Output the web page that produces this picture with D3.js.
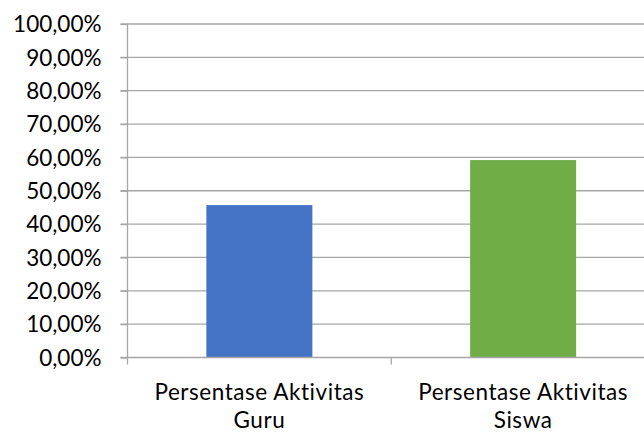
<!DOCTYPE html>
<html><head><meta charset="utf-8">
<script src="https://cdn.jsdelivr.net/npm/d3@7"></script>
<style>body{margin:0;background:#fff}svg{display:block}</style>
</head><body>
<svg id="c" width="644" height="435"></svg>
<script>
const categories = [["Persentase Aktivitas","Guru"],["Persentase Aktivitas","Siswa"]];
const values = [0.457, 0.592];
const colors = ["#4472C4", "#70AD47"];
const yTicks = [0,0.1,0.2,0.3,0.4,0.5,0.6,0.7,0.8,0.9,1.0];

const svg = d3.select("#c");
const mLeft = 127.5, mRight = 655, mTop = 24, mBottom = 357.5;
const font = "Lato, 'Open Sans', sans-serif";
const x = d3.scaleBand().domain(d3.range(categories.length)).range([mLeft, mRight]).paddingInner(0).paddingOuter(0);
const y = d3.scaleLinear().domain([0,1]).range([mBottom, mTop]);
const fmt = v => (v*100).toFixed(2).replace(".", ",") + "%";

// gridlines
svg.append("g").selectAll("line").data(yTicks.filter(d=>d>0)).join("line")
  .attr("x1", mLeft - 7).attr("x2", mRight)
  .attr("y1", d=>y(d)).attr("y2", d=>y(d))
  .attr("stroke", "#a6a6a6").attr("stroke-width", 1.3);

// bars
const bw = 106;
svg.append("g").selectAll("rect").data(values).join("rect")
  .attr("x", (d,i)=> x(i) + x.bandwidth()/2 - bw/2)
  .attr("width", bw)
  .attr("y", d=>y(d)).attr("height", d=>mBottom - y(d))
  .attr("fill", (d,i)=>colors[i]);

// y axis
const ya = svg.append("g").attr("transform", `translate(${mLeft},0)`)
  .call(d3.axisLeft(y).tickValues(yTicks).tickFormat(fmt).tickSize(7).tickPadding(19));
ya.select(".domain").remove();
ya.selectAll(".tick line").attr("stroke", "#a6a6a6").attr("stroke-width", 1.3);
ya.selectAll("text").attr("font-family", font).attr("font-size", 22.5).attr("fill", "#000")
  .attr("dy", "0.34em");
svg.append("line").attr("x1", mLeft).attr("x2", mLeft).attr("y1", mTop).attr("y2", mBottom)
  .attr("stroke", "#a6a6a6").attr("stroke-width", 1.3);

// x axis
svg.append("line").attr("x1", mLeft - 7).attr("x2", mRight).attr("y1", mBottom).attr("y2", mBottom)
  .attr("stroke", "#a6a6a6").attr("stroke-width", 1.3);
const bounds = d3.range(categories.length + 1).map(i => mLeft + i * x.bandwidth());
svg.append("g").selectAll("line").data(bounds).join("line")
  .attr("x1", d=>d).attr("x2", d=>d).attr("y1", mBottom).attr("y2", mBottom + 7)
  .attr("stroke", "#a6a6a6").attr("stroke-width", 1.3);
const lab = svg.append("g").selectAll("text").data(categories).join("text")
  .attr("text-anchor", "middle").attr("font-family", font).attr("font-size", 22.5).attr("fill", "#000")
  .attr("letter-spacing", 0.55)
  .attr("transform", (d,i)=>`translate(${x(i)+x.bandwidth()/2},0)`);
lab.selectAll("tspan").data(d=>d).join("tspan").attr("x", 0)
  .attr("y", (d,j)=> 400 + j*27.5).text(d=>d);
</script>
</body></html>
